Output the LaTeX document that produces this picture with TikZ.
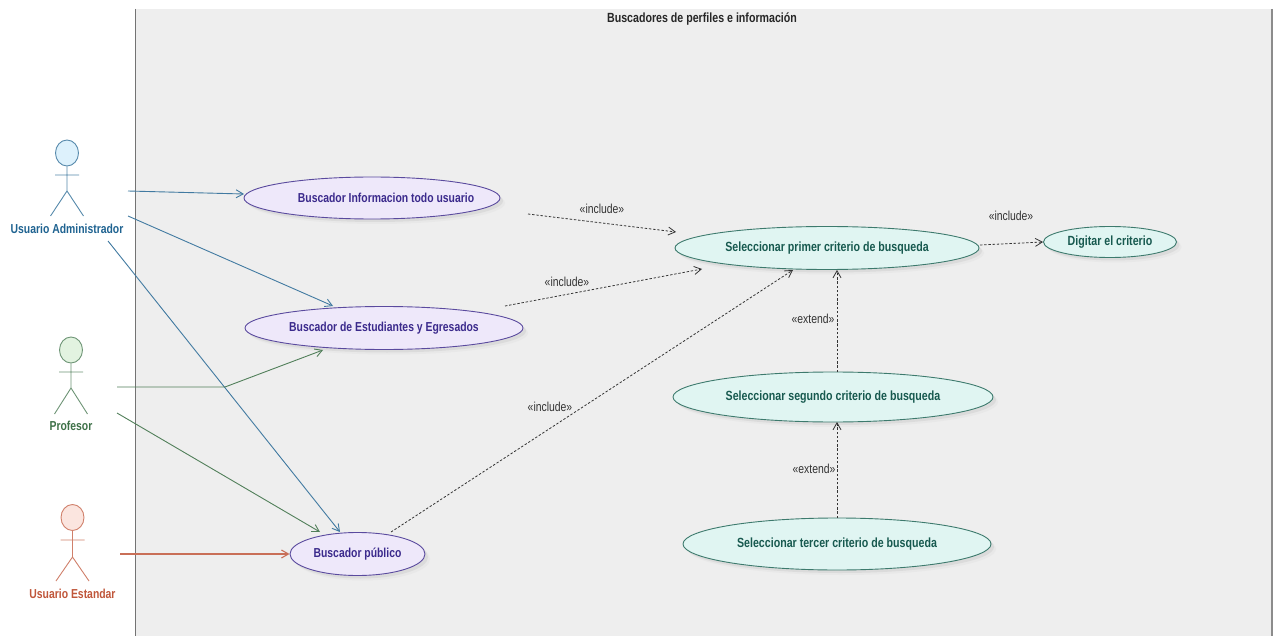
\documentclass[tikz,border=0pt]{standalone}
\usepackage{fontspec}
\setmainfont[FakeStretch=0.8]{Liberation Sans}
\usetikzlibrary{arrows.meta,shapes.geometric}
\definecolor{boundaryfill}{HTML}{EEEEEE}
\definecolor{adminC}{HTML}{1F6391}
\definecolor{adminF}{HTML}{DDF1FC}
\definecolor{profC}{HTML}{3E7148}
\definecolor{profF}{HTML}{E2F3E0}
\definecolor{stdC}{HTML}{C0563A}
\definecolor{stdF}{HTML}{FBE5DF}
\definecolor{purC}{HTML}{5A4A9E}
\definecolor{purF}{HTML}{EEE8FA}
\definecolor{purT}{HTML}{3B2A8C}
\definecolor{tealC}{HTML}{3D7A6D}
\definecolor{tealF}{HTML}{E0F5F2}
\definecolor{tealT}{HTML}{17594F}
\tikzset{
  x=1pt,y=-1pt,
  open/.style={-{Straight Barb[length=7pt,width=8pt]}},
  assoc/.style={open,line width=.9pt},
  dep/.style={open,dash pattern=on 2.4pt off 1.8pt,black!80,line width=.8pt},
  uc/.style={ellipse,draw,line width=.9pt,inner sep=0pt,font=\bfseries\fontsize{13}{15}\selectfont},
  purple uc/.style={uc,draw=purC,fill=purF,text=purT},
  teal uc/.style={uc,draw=tealC,fill=tealF,text=tealT,font=\bfseries\fontsize{13.3}{15}\selectfont},
  shade/.style={ellipse,fill=black!9,inner sep=0pt},
  shade core/.style={ellipse,fill=black!14,inner sep=0pt},
  stereo/.style={font=\fontsize{13}{15}\selectfont,text=black!80,inner sep=0pt},
  actorline/.style={line width=.9pt},
  actorlabel/.style={font=\bfseries\fontsize{13}{15}\selectfont,inner sep=0pt},
}
\newcommand{\ucase}[7]{% name, x, y, w, h, style, text
  \node[shade,minimum width=#4pt,minimum height=#5pt] at (#2+5,#3+5) {};
  \node[shade core,minimum width=#4pt,minimum height=#5pt] at (#2+3,#3+3) {};
  \node[#6,minimum width=#4pt,minimum height=#5pt] (#1) at (#2,#3) {#7};
}
\newcommand{\actor}[8]{% name,x,headcy,armY,crotchY,footY,col,fill
  \node[ellipse,draw=#7!75!white,fill=#8,line width=.9pt,minimum width=23pt,minimum height=26pt,inner sep=0pt] (#1) at (#2,#3) {};
  \draw[actorline,#7!75!white] (#1.south) -- (#2,#5) -- (#2-16.5,#6) (#2,#5) -- (#2+16.5,#6) (#2-12,#4) -- (#2+12,#4);
}
\begin{document}
\begin{tikzpicture}
\useasboundingbox (0,0) rectangle (1276,636);
\fill[white] (0,0) rectangle (1276,636);
\fill[boundaryfill] (135,9) rectangle (1272,636);
\draw[black!55,line width=.9pt] (135,9) -- (135,636);
\draw[black!45,line width=1.2pt] (1272,9) -- (1272,636);
\node[font=\bfseries\fontsize{13.3}{15}\selectfont,text=black!85,inner sep=0pt] (title) at (702,19) {Buscadores de perfiles e información};

\ucase{u1}{372}{198}{256}{42}{purple uc}{\makebox[0pt]{\hspace*{28pt}Buscador Informacion todo usuario}}
\ucase{u2}{384}{328}{278}{43}{purple uc}{Buscador de Estudiantes y Egresados}
\ucase{u3}{357.5}{554}{135}{43}{purple uc}{Buscador público}
\ucase{s1}{827}{248}{304}{43}{teal uc}{Seleccionar primer criterio de busqueda}
\ucase{dg}{1110}{242}{133}{31}{teal uc}{Digitar el criterio}
\ucase{s2}{833}{397}{320}{50}{teal uc}{Seleccionar segundo criterio de busqueda}
\ucase{s3}{837}{544}{308}{52}{teal uc}{Seleccionar tercer criterio de busqueda}

\actor{a1}{67}{153}{175}{191}{216}{adminC}{adminF}
\node[actorlabel,text=adminC] (l1) at (67,229) {Usuario Administrador};
\actor{a2}{71}{350}{372}{388}{414}{profC}{profF}
\node[actorlabel,text=profC] (l2) at (71,426) {Profesor};
\actor{a3}{72.5}{517.5}{540}{557}{581}{stdC}{stdF}
\node[actorlabel,text=stdC] (l3) at (72.5,594) {Usuario Estandar};

\coordinate (a1r) at (128,191);
\coordinate (a1s) at (128,216);
\coordinate (a1b) at (108,241);
\coordinate (a2r) at (117,387);
\coordinate (a2k) at (225,387);
\coordinate (a2s) at (117,413);
\coordinate (a3r) at (120,554);

\draw[assoc,adminC!85!white] (a1r) -- (244,194);
\draw[assoc,adminC!85!white] (a1s) -- (333,306);
\draw[assoc,adminC!85!white] (a1b) -- (340,532);
\draw[assoc,profC!90!white] (a2r) -- (a2k) -- (323,350);
\draw[assoc,profC!90!white] (a2s) -- (320,532);
\draw[assoc,stdC!85!white,line width=1.1pt] (a3r) -- (u3.west);

\draw[dep] (528,214) -- (676,232);
\draw[dep] (505,306) -- (702,269);
\draw[dep] (391,532) -- (793,270);
\draw[dep] (980,245) -- (dg.west);
\draw[dep] (837,372) -- (837,270);
\draw[dep] (837,518) -- (837,422);

\node[stereo] (t1) at (602,209) {«include»};
\node[stereo] (t2) at (567,282) {«include»};
\node[stereo] (t3) at (550,407) {«include»};
\node[stereo] (t4) at (1011,216) {«include»};
\node[stereo] (t5) at (813,319) {«extend»};
\node[stereo] (t6) at (814,469) {«extend»};
\end{tikzpicture}
\end{document}
